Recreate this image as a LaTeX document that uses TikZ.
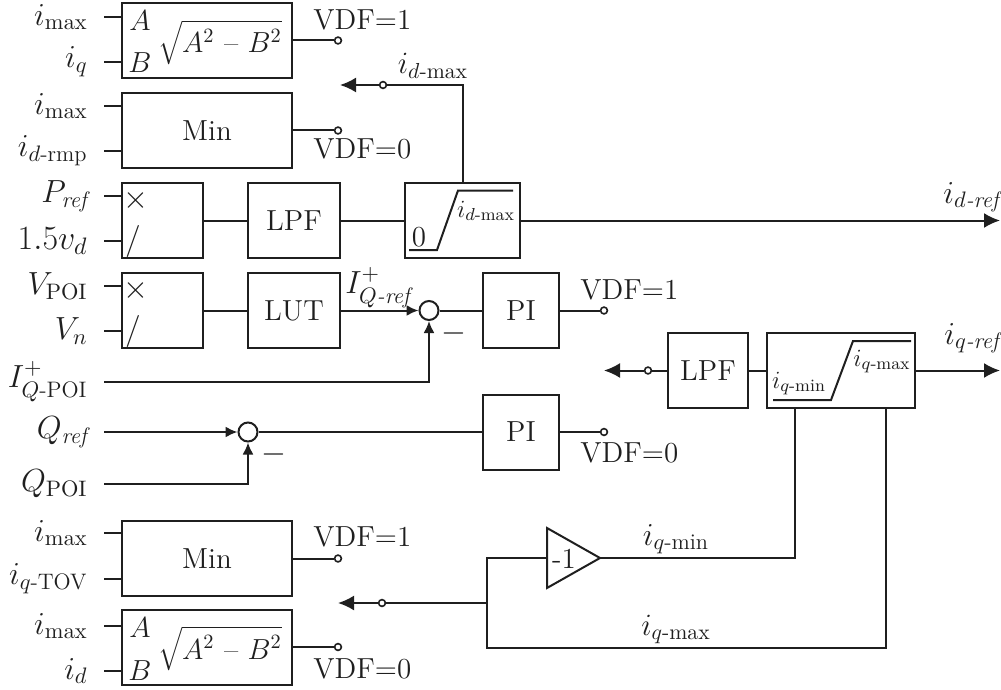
\RequirePackage{fix-cm}
\documentclass[tikz,border=0pt]{standalone}
\usepackage{amsmath}
\usetikzlibrary{arrows.meta,calc}
\tikzset{
 every node/.style={font=\fontsize{16}{19}\selectfont},
 blk/.style={draw, line width=1pt, minimum height=37.5pt, inner sep=0pt, font=\fontsize{14.5}{17}\selectfont},
 sumc/.style={circle, draw, line width=1pt, minimum size=9.5pt, inner sep=0pt},
 term/.style={circle, draw, line width=0.8pt, fill=white, minimum size=3.4pt, inner sep=0pt},
 wire/.style={line width=1pt},
 inlbl/.style={anchor=east, inner xsep=8pt, inner ysep=0pt},
 bigarr/.style={-{Latex[length=8pt,width=7.5pt]}},
 smallarr/.style={-{Latex[length=6pt,width=5.5pt]}},
 smalltxt/.style={font=\fontsize{12.4}{14}\selectfont},
 abtxt/.style={font=\fontsize{14.5}{17}\selectfont},
 midtxt/.style={font=\fontsize{15.5}{18}\selectfont},
 vdf/.style={inner sep=0pt, font=\fontsize{14.5}{17}\selectfont},
 lbl/.style={inner sep=0pt}
}
\newcommand{\sqexpr}{\fontsize{12}{14}\selectfont$\sqrt{\rule[-4pt]{0pt}{17pt}\mbox{\fontsize{14.5}{17}\selectfont$A^2$ -- $B^2$}}$}
\begin{document}
\begin{tikzpicture}[x=0.5pt,y=-0.5pt,color=black!88]
\useasboundingbox (0,0) rectangle (1001,690);

% ---------- top sqrt block ----------
\node[blk, minimum width=85pt] (sqA) at (207,40.5) {};
\node[abtxt] (sqAa) at (140,21) {$A$};
\node[abtxt] (sqAb) at (140,63) {$B$};
\node[anchor=base, inner sep=0pt] (sqAe) at (220,53) {\sqexpr};
\node[inlbl] (l1) at (104,17) {$i_{\max}$};
\node[inlbl] (l2) at (104,62) {$i_q$};
\draw[wire] (l1.east) -- (l1.east -| sqA.west);
\draw[wire] (l2.east) -- (l2.east -| sqA.west);
\node[term] (t1) at (338,40.5) {};
\draw[wire] (sqA.east) -- (t1);
\node[vdf, anchor=base west] (v1) at (313,30) {VDF=1};

% ---------- top min block ----------
\node[blk, minimum width=85pt] (minA) at (207,130.5) {Min};
\node[inlbl] (l3) at (104,106) {$i_{\max}$};
\node[inlbl] (l4) at (104,151) {$i_{d\text{-rmp}}$};
\draw[wire] (l3.east) -- (l3.east -| minA.west);
\draw[wire] (l4.east) -- (l4.east -| minA.west);
\node[term] (t2) at (338,130.5) {};
\draw[wire] (minA.east) -- (t2);
\node[vdf, anchor=base west] (v2) at (313,158) {VDF=0};

% ---------- row 3 : P_ref ----------
\node[blk, minimum width=40.5pt] (pr1) at (162.5,220.5) {};
\node (pr1x) at (136,200) {$\times$};
\node (pr1d) at (133,241) {$/$};
\node[blk, minimum width=46pt] (lpf1) at (294,220.5) {LPF};
\node[blk, minimum width=57.5pt] (satd) at (462.5,220.5) {};
\draw[wire] (409,250) -- (437,250) -- (458,190.5) -- (513,190.5);
\node[smalltxt] (satdl) at (486,211) {$i_{d\text{-max}}$};
\node[abtxt] (satd0) at (419,237) {$0$};
\node[inlbl] (l5) at (104,196) {$P_{\textit{ref}}$};
\node[inlbl, font=\fontsize{17}{20}\selectfont] (l6) at (104,241) {$1.5v_d$};
\draw[wire] (l5.east) -- (l5.east -| pr1.west);
\draw[wire] (l6.east) -- (l6.east -| pr1.west);
\draw[wire] (pr1.east) -- (lpf1.west);
\draw[wire] (lpf1.east) -- (satd.west);
\coordinate (dref) at (1000,220.5);
\draw[wire,bigarr] (satd.east) -- (dref);
\node[lbl, anchor=base east] (drefl) at (1000,203) {$i_{d\textit{-ref}}$};

% feedback i_d-max
\node[term] (fbt) at (383,85) {};
\coordinate (fbend) at (340,85);
\draw[wire] (satd.north) |- (fbt);
\draw[wire,bigarr] (fbt) -- (fbend);
\node[lbl, midtxt, anchor=base] (fbl) at (433,74) {$i_{d\text{-max}}$};

% ---------- row 4 : V_POI ----------
\node[blk, minimum width=40.5pt] (pr2) at (162.5,310.5) {};
\node (pr2x) at (136,290) {$\times$};
\node (pr2d) at (133,331) {$/$};
\node[blk, minimum width=46pt] (lut) at (294,310.5) {LUT};
\node[sumc] (s1) at (429,310.5) {};
\node[blk, minimum width=38pt] (pi1) at (521,310.5) {PI};
\node[inlbl] (l7) at (104,286) {$V_{\mathrm{POI}}$};
\node[inlbl] (l8) at (104,331) {$V_n$};
\draw[wire] (l7.east) -- (l7.east -| pr2.west);
\draw[wire] (l8.east) -- (l8.east -| pr2.west);
\draw[wire] (pr2.east) -- (lut.west);
\draw[wire,smallarr] (lut.east) -- (s1.west);
\node[lbl, anchor=base west] (iqrefl) at (345,293) {$I^{+}_{Q\textit{-ref}}$};
\node (m1) at (454,333) {$-$};
\draw[wire] (s1.east) -- (pi1.west);
\node[term] (t3) at (604,310.5) {};
\draw[wire] (pi1.east) -- (t3);
\node[vdf, anchor=base west] (v3) at (580,299) {VDF=1};
\node[inlbl] (l9) at (104,382) {$I^{+}_{Q\text{-POI}}$};
\draw[wire,smallarr] (l9.east) -| (s1.south);

% ---------- row 5 : Q_ref ----------
\node[sumc] (s2) at (248,432) {};
\node[blk, minimum width=38pt] (pi2) at (521,432) {PI};
\node[inlbl] (l10) at (104,432) {$Q_{\textit{ref}}$};
\node[inlbl] (l11) at (104,484) {$Q_{\mathrm{POI}}$};
\draw[wire,smallarr] (l10.east) -- (s2.west);
\draw[wire,smallarr] (l11.east) -| (s2.south);
\node (m2) at (274,454) {$-$};
\draw[wire] (s2.east) -- (pi2.west);
\node[term] (t4) at (604,432) {};
\draw[wire] (pi2.east) -- (t4);
\node[vdf, anchor=base west] (v4) at (580,462) {VDF=0};

% ---------- q-axis limiter ----------
\node[blk, minimum width=40pt] (lpf2) at (708,370.5) {LPF};
\node[blk, minimum width=74pt] (satq) at (841,370.5) {};
\draw[wire] (773,400) -- (831,400) -- (853,341) -- (911,341);
\node[smalltxt, anchor=base] (satqmin) at (799,388) {$i_{q\text{-min}}$};
\node[smalltxt, anchor=base] (satqmax) at (882,366) {$i_{q\text{-max}}$};
\node[term] (t7) at (648,370.5) {};
\coordinate (a7) at (604,370.5);
\draw[wire] (lpf2.west) -- (t7);
\draw[wire,bigarr] (t7) -- (a7);
\draw[wire] (lpf2.east) -- (satq.west);
\coordinate (qref) at (1000,370.5);
\draw[wire,bigarr] (satq.east) -- (qref);
\node[lbl, anchor=base east] (qrefl) at (1000,344) {$i_{q\textit{-ref}}$};

% gain -1
\coordinate (triL) at (547,558);
\coordinate (triR) at (600,558);
\draw[wire] (547,528) -- (triR) -- (547,588) -- cycle;
\node[abtxt] (gain) at (564,559) {-1};
\coordinate (qminc) at (795,558);
\draw[wire] (triR) -- (qminc) -- (qminc |- satq.south);
\node[lbl, anchor=base] (qminl) at (676,545) {$i_{q\text{-min}}$};
\coordinate (jl) at (487,558);
\coordinate (jb) at (487,648);
\coordinate (qmaxc) at (886,648);
\draw[wire] (triL) -- (jl) -- (jb) -- (qmaxc) -- (qmaxc |- satq.south);
\node[lbl, midtxt, anchor=base] (qmaxl) at (676,635) {$i_{q\text{-max}}$};
\coordinate (jn) at (487,603);
\node[term] (t8) at (382,603) {};
\coordinate (a8) at (338,603);
\draw[wire] (jn) -- (t8);
\draw[wire,bigarr] (t8) -- (a8);

% ---------- bottom min block ----------
\node[blk, minimum width=85pt] (minB) at (207,558.5) {Min};
\node[inlbl] (l12) at (104,533) {$i_{\max}$};
\node[inlbl] (l13) at (104,579) {$i_{q\text{-TOV}}$};
\draw[wire] (l12.east) -- (l12.east -| minB.west);
\draw[wire] (l13.east) -- (l13.east -| minB.west);
\node[term] (t5) at (338,558.5) {};
\draw[wire] (minB.east) -- (t5);
\node[vdf, anchor=base west] (v5) at (313,546) {VDF=1};

% ---------- bottom sqrt block ----------
\node[blk, minimum width=85pt] (sqB) at (207,647) {};
\node[abtxt] (sqBa) at (140,628) {$A$};
\node[abtxt] (sqBb) at (140,671) {$B$};
\node[anchor=base, inner sep=0pt] (sqBe) at (220,659) {\sqexpr};
\node[inlbl] (l14) at (104,626) {$i_{\max}$};
\node[inlbl] (l15) at (104,671) {$i_d$};
\draw[wire] (l14.east) -- (l14.east -| sqB.west);
\draw[wire] (l15.east) -- (l15.east -| sqB.west);
\node[term] (t6) at (338,647) {};
\draw[wire] (sqB.east) -- (t6);
\node[vdf, anchor=base west] (v6) at (313,678) {VDF=0};
\end{tikzpicture}
\end{document}
